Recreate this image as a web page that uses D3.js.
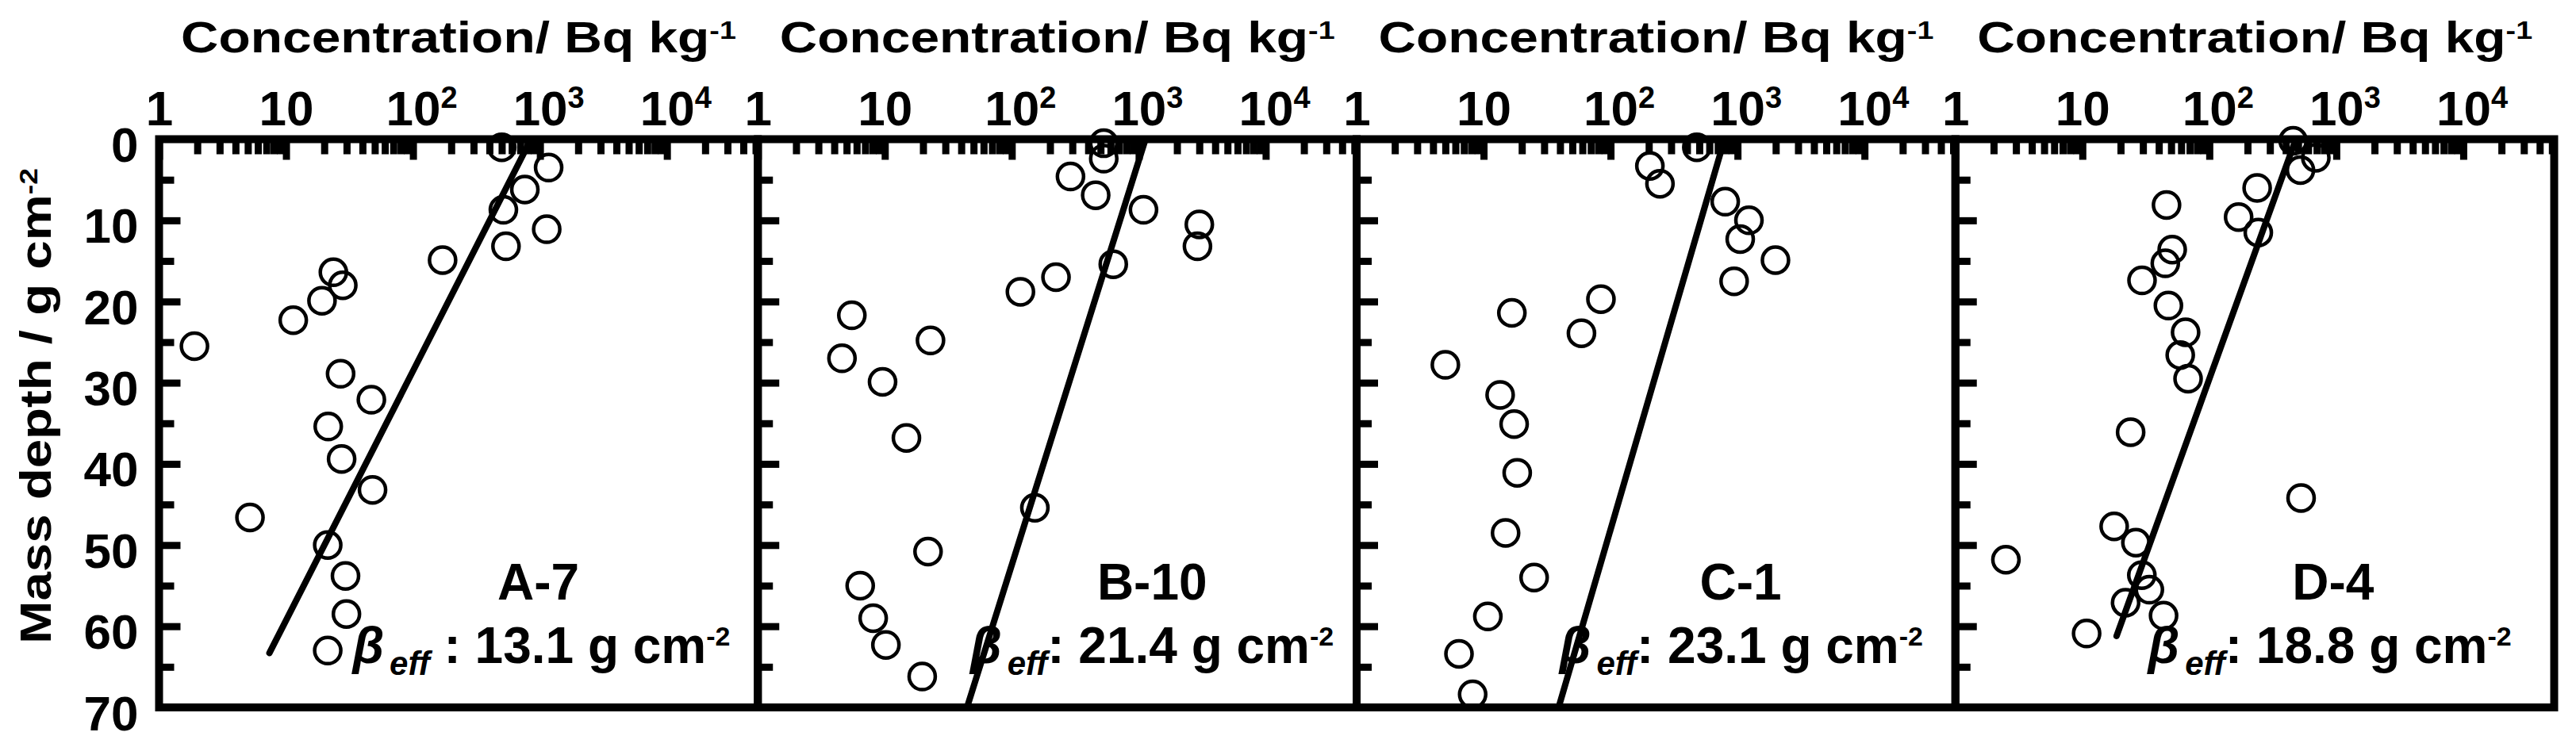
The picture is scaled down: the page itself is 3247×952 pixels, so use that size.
<!DOCTYPE html>
<html>
<head>
<meta charset="utf-8">
<script src="https://cdn.jsdelivr.net/npm/d3@7"></script>
<style>
body { margin: 0; background: #fff; }
text { font-family: "Liberation Sans", Arial, sans-serif; font-weight: bold; fill: #000; }
</style>
</head>
<body>
<script>
// site names and fitted effective relaxation mass depth
const sites = ["A-7", "B-10", "C-1", "D-4"]
const betaEff = ["13.1", "21.4", "23.1", "18.8"]

// concentration (Bq/kg) vs mass depth (g/cm2), one pair of arrays per site
const concA = [500, 1170, 760, 515, 1130, 540, 171, 23.6, 28, 19.2, 11.4, 1.9, 26.9, 47, 21.5, 27.4, 48, 5.2, 21.3, 29.4, 29.9, 21.3]
const depthA = [1.0, 3.5, 6.2, 8.7, 11.1, 13.2, 14.9, 16.4, 18.0, 19.9, 22.3, 25.5, 28.9, 32.1, 35.4, 39.4, 43.2, 46.6, 50.0, 53.8, 58.5, 63.0]

const concB = [530, 530, 290, 458, 1090, 3000, 2900, 630, 223, 117, 5.5, 22.9, 4.6, 9.6, 14.8, 152, 21.9, 6.4, 8.1, 10.2, 19.7]
const depthB = [0.5, 2.4, 4.6, 6.9, 8.7, 10.5, 13.2, 15.4, 17.0, 18.8, 21.7, 24.8, 27.0, 29.9, 36.8, 45.4, 50.8, 55.0, 59.0, 62.3, 66.2]

const concC = [478, 204, 245, 800, 1230, 1050, 1990, 940, 84, 16.7, 59, 5.0, 13.5, 17.4, 18.4, 14.9, 25, 10.8, 6.4, 8.2]
const depthC = [1.0, 3.3, 5.5, 7.7, 10.0, 12.3, 14.9, 17.5, 19.7, 21.4, 23.9, 27.8, 31.5, 35.1, 41.1, 48.5, 54.0, 58.8, 63.4, 68.4]

const concD = [457, 690, 522, 238, 46, 170, 243, 51, 45, 29.5, 47.6, 65, 59, 68, 24, 528, 17.8, 26.4, 2.5, 29.4, 33.7, 21.9, 43.6, 10.8]
const depthD = [0.2, 2.3, 3.8, 6.0, 8.1, 9.6, 11.5, 13.6, 15.3, 17.4, 20.5, 23.8, 26.6, 29.5, 36.1, 44.2, 47.7, 49.7, 51.8, 53.7, 55.5, 57.1, 58.7, 60.9]

// fitted exponential line, read as its two end points (top, bottom)
const fitConc = [[850, 7.4], [1130, 43.6], [790, 38], [480, 18.6]]
const fitDepth = [[0, 63.3], [0, 70.4], [0, 70.6], [0, 61.2]]

// axis ticks
const xMajor = [1, 10, 100, 1000, 10000]
const xLabelBase = ["1", "10", "10", "10", "10"]
const xLabelSup = ["", "", "2", "3", "4"]
const yMajor = [0, 10, 20, 30, 40, 50, 60, 70]
const yMinor = [5, 15, 25, 35, 45, 55, 65]

const concs = [concA, concB, concC, concD]
const depths = [depthA, depthB, depthC, depthD]

// layout
const W = 3247, H = 952
const plotLeft = 200.5, panelW = 754.75, plotTop = 175.5, plotBottom = 892
const xMax = 5.2e4
const idX = [478, 497, 484, 476]       // label centre, relative to panel left
const betaX = [720, 726, 714, 701]     // beta text end, relative to panel left

let xMinor = []
for (let k = 0; k < 5; k++) for (let j = 2; j <= 9; j++) xMinor.push(j * Math.pow(10, k))
xMinor = xMinor.filter(v => v < xMax)

const svg = d3.select("body").append("svg").attr("width", W).attr("height", H)

let y = d3.scaleLinear().domain([0, 70]).range([plotTop, plotBottom])

function styleTicks(a, w) {
  a.select(".domain").remove()
  a.selectAll("line").attr("stroke", "#000").attr("stroke-width", w)
}

// the axis titles in the figure are set wider than the bold face: stretch each piece to the measured length
function stretchTo(t, length) {
  const spans = t.selectAll("tspan").nodes()
  const nat = spans.map(n => n.getComputedTextLength())
  const s = length / d3.sum(nat)
  spans.forEach((n, k) => d3.select(n).attr("textLength", nat[k] * s).attr("lengthAdjust", "spacingAndGlyphs"))
}

sites.forEach((site, i) => {
  const x0 = plotLeft + i * panelW
  let x = d3.scaleLog().domain([1, xMax]).range([0, panelW])
  let g = svg.append("g").attr("transform", "translate(" + x0 + ",0)")

  g.append("clipPath").attr("id", "clip" + i)
    .append("rect").attr("x", 0).attr("y", plotTop).attr("width", panelW).attr("height", plotBottom - plotTop)

  // top axis: minor + major ticks pointing inward
  g.append("g").attr("transform", "translate(0," + plotTop + ")")
    .call(d3.axisTop(x).tickValues(xMinor).tickSize(-19).tickSizeOuter(0).tickFormat(""))
    .call(a => styleTicks(a, 9))
  g.append("g").attr("transform", "translate(0," + plotTop + ")")
    .call(d3.axisTop(x).tickValues(xMajor).tickSize(-26).tickSizeOuter(0).tickFormat(""))
    .call(a => styleTicks(a, 9))

  // top tick labels, the power as a superscript tspan; "10" stays centred on its tick
  let lab = g.append("g").attr("transform", "translate(0," + plotTop + ")")
    .call(d3.axisTop(x).tickValues(xMajor).tickSize(0).tickPadding(18).tickFormat((d, k) => xLabelBase[k]))
  lab.select(".domain").remove()
  lab.attr("font-family", null).attr("font-size", null)
  lab.selectAll(".tick").each(function (d, k) {
    const t = d3.select(this).select("text").attr("font-size", 62).attr("fill", "#000")
    if (xLabelSup[k]) {
      const w = t.node().getComputedTextLength()
      t.attr("text-anchor", "start").attr("x", -w / 2)
      t.append("tspan").attr("dy", -22).attr("font-size", 38).text(xLabelSup[k])
    }
  })

  // left axis ticks pointing inward
  g.append("g")
    .call(d3.axisLeft(y).tickValues(yMinor).tickSize(-19).tickSizeOuter(0).tickFormat(""))
    .call(a => styleTicks(a, 9))
  g.append("g")
    .call(d3.axisLeft(y).tickValues(yMajor.slice(1, -1)).tickSize(-27).tickSizeOuter(0).tickFormat(""))
    .call(a => styleTicks(a, 9))

  // frame
  g.append("rect").attr("x", 0).attr("y", plotTop).attr("width", panelW).attr("height", plotBottom - plotTop)
    .attr("fill", "none").attr("stroke", "#000").attr("stroke-width", 10)

  // axis title
  let title = g.append("text").attr("x", panelW / 2).attr("y", 66)
    .attr("text-anchor", "middle").attr("font-size", 56)
  title.append("tspan").text("Concentration/ Bq kg")
  title.append("tspan").attr("dy", -17).attr("font-size", 32).text("-1")
  stretchTo(title, 700)

  // fitted line
  const line = d3.line().x(d => x(d[0])).y(d => y(d[1]))
  g.append("path")
    .datum(fitConc[i].map((c, k) => [c, fitDepth[i][k]]))
    .attr("clip-path", "url(#clip" + i + ")")
    .attr("fill", "none").attr("stroke", "#000").attr("stroke-width", 8)
    .attr("stroke-linecap", "round")
    .attr("d", line)

  // data points
  g.selectAll("circle.pt")
    .data(concs[i].map((c, k) => [c, depths[i][k]]))
    .enter().append("circle").attr("class", "pt")
    .attr("cx", d => x(d[0])).attr("cy", d => y(d[1])).attr("r", 16.5)
    .attr("fill", "none").attr("stroke", "#000").attr("stroke-width", 4.5)

  // site label
  g.append("text").attr("x", idX[i]).attr("y", 756).attr("text-anchor", "middle")
    .attr("font-size", 64).text(site)

  let bt = g.append("text").attr("x", betaX[i]).attr("y", 836).attr("text-anchor", "end").attr("font-size", 64)
  bt.append("tspan").attr("font-style", "italic").text("\u03b2")
  bt.append("tspan").attr("font-style", "italic").attr("font-size", 42).attr("dx", 7).attr("dy", 15).text("eff")
  bt.append("tspan").attr("dy", -15).text((i == 0 ? " : " : ": ") + betaEff[i] + " g cm")
  bt.append("tspan").attr("dy", -22).attr("font-size", 34).text("-2")
})

// y tick labels only on the first panel
svg.append("g").attr("transform", "translate(" + plotLeft + ",0)")
  .call(d3.axisLeft(y).tickValues(yMajor).tickSize(0).tickPadding(26))
  .call(a => a.select(".domain").remove())
  .call(a => a.attr("font-family", null).attr("font-size", null))
  .call(a => a.selectAll("text").attr("font-size", 62).attr("fill", "#000").attr("dy", 28))

// y axis title
let yt = svg.append("text").attr("transform", "translate(64,512) rotate(-90)")
  .attr("text-anchor", "middle").attr("font-size", 56)
yt.append("tspan").text("Mass depth / g cm")
yt.append("tspan").attr("dy", -17).attr("font-size", 32).text("-2")
stretchTo(yt, 600)
</script>
</body>
</html>
